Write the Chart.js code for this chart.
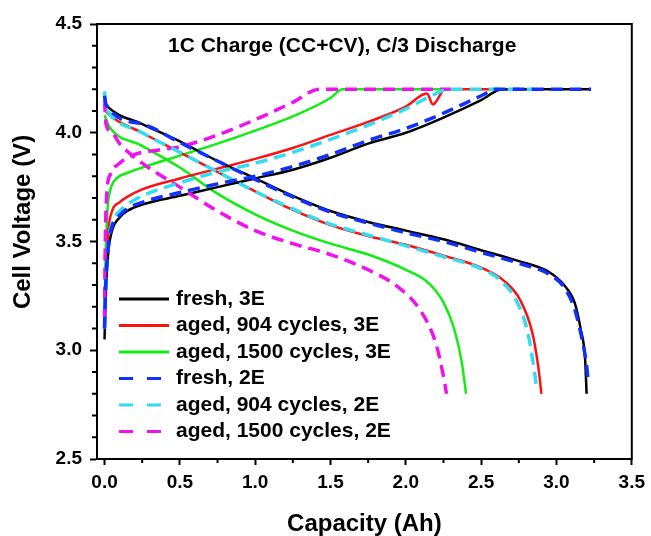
<!DOCTYPE html>
<html>
<head>
<meta charset="utf-8">
<script src="https://cdn.jsdelivr.net/npm/chart.js@4/dist/chart.umd.min.js"></script>
<style>
  html, body { margin: 0; padding: 0; background: #fff; }
  canvas { display: block; }
</style>
</head>
<body>
<canvas id="voltChart" width="651" height="536"></canvas>
<script>
// capacity (Ah), voltage (V) pairs
const fresh3E_chg = [[0,3.05],[0.008,3.25],[0.025,3.45],[0.05,3.55],[0.1,3.61],[0.15,3.64],[0.25,3.67],[0.5,3.71],[0.75,3.75],[1.0,3.79],[1.25,3.83],[1.5,3.885],[1.75,3.95],[2.0,4.0],[2.25,4.07],[2.5,4.15],[2.64,4.2],[3.22,4.2]];
const fresh3E_dis = [[0,4.14],[0.02,4.12],[0.25,4.04],[0.5,3.96],[0.75,3.87],[1.0,3.79],[1.25,3.71],[1.5,3.64],[1.75,3.59],[2.0,3.55],[2.25,3.51],[2.5,3.46],[2.75,3.41],[2.95,3.36],[3.05,3.30],[3.12,3.22],[3.16,3.10],[3.19,2.96],[3.2,2.8]];

const aged904_3E_chg = [[0,3.12],[0.008,3.35],[0.025,3.55],[0.05,3.64],[0.1,3.68],[0.15,3.705],[0.25,3.74],[0.5,3.79],[0.75,3.835],[1.0,3.88],[1.25,3.93],[1.5,3.99],[1.75,4.05],[2.0,4.12],[2.14,4.18],[2.18,4.13],[2.26,4.2],[2.85,4.2]];
const aged904_3E_dis = [[0,4.11],[0.02,4.09],[0.25,4.0],[0.5,3.91],[0.75,3.82],[1.0,3.73],[1.25,3.645],[1.5,3.575],[1.75,3.525],[2.0,3.485],[2.25,3.435],[2.5,3.38],[2.65,3.32],[2.76,3.23],[2.84,3.08],[2.88,2.92],[2.9,2.8]];

const aged1500_3E_chg = [[0,3.15],[0.008,3.45],[0.02,3.65],[0.04,3.74],[0.08,3.79],[0.15,3.815],[0.25,3.84],[0.5,3.895],[0.75,3.95],[1.0,4.01],[1.25,4.075],[1.5,4.16],[1.58,4.2],[2.38,4.2]];
const aged1500_3E_dis = [[0,4.08],[0.03,4.03],[0.25,3.94],[0.5,3.84],[0.75,3.72],[1.0,3.625],[1.25,3.55],[1.5,3.49],[1.75,3.44],[2.0,3.37],[2.15,3.31],[2.25,3.22],[2.32,3.10],[2.37,2.95],[2.4,2.8]];

const fresh2E_chg = [[0,3.1],[0.008,3.3],[0.025,3.48],[0.05,3.57],[0.1,3.62],[0.15,3.65],[0.25,3.68],[0.5,3.725],[0.75,3.765],[1.0,3.80],[1.25,3.845],[1.5,3.90],[1.75,3.965],[2.0,4.02],[2.25,4.09],[2.5,4.17],[2.6,4.2],[3.23,4.2]];
const fresh2E_dis = [[0,4.17],[0.01,4.13],[0.25,4.04],[0.5,3.955],[0.75,3.87],[1.0,3.785],[1.25,3.705],[1.5,3.635],[1.75,3.585],[2.0,3.54],[2.25,3.50],[2.5,3.45],[2.75,3.40],[2.95,3.35],[3.05,3.29],[3.12,3.19],[3.17,3.05],[3.2,2.93],[3.21,2.86]];

const aged904_2E_chg = [[0,3.1],[0.01,3.35],[0.03,3.52],[0.06,3.6],[0.1,3.64],[0.15,3.67],[0.25,3.71],[0.5,3.77],[0.75,3.82],[1.0,3.86],[1.25,3.91],[1.5,3.97],[1.75,4.035],[2.0,4.11],[2.2,4.18],[2.28,4.2],[2.85,4.2]];
const aged904_2E_dis = [[0,4.19],[0.005,4.13],[0.02,4.10],[0.25,4.0],[0.5,3.91],[0.75,3.82],[1.0,3.73],[1.25,3.65],[1.5,3.58],[1.75,3.53],[2.0,3.48],[2.25,3.43],[2.5,3.375],[2.63,3.32],[2.74,3.22],[2.81,3.08],[2.85,2.92],[2.87,2.82]];

const aged1500_2E_chg = [[0,3.15],[0.005,3.5],[0.015,3.72],[0.04,3.81],[0.1,3.86],[0.2,3.90],[0.35,3.92],[0.5,3.935],[0.75,3.99],[1.0,4.06],[1.25,4.14],[1.43,4.2],[2.3,4.2]];
const aged1500_2E_dis = [[0,4.15],[0.01,4.04],[0.05,4.0],[0.1,3.95],[0.25,3.86],[0.5,3.75],[0.75,3.64],[1.0,3.55],[1.25,3.49],[1.5,3.44],[1.75,3.37],[1.95,3.29],[2.1,3.18],[2.2,3.03],[2.25,2.88],[2.27,2.8]];

const seriesNames = ["fresh, 3E", "aged, 904 cycles, 3E", "aged, 1500 cycles, 3E",
                     "fresh, 2E", "aged, 904 cycles, 2E", "aged, 1500 cycles, 2E"];
const xTicks = [0, 0.5, 1.0, 1.5, 2.0, 2.5, 3.0, 3.5];
const yTicks = [2.5, 3.0, 3.5, 4.0, 4.5];

const FONT = '"Liberation Sans", Arial, sans-serif';

function curve(chg, dis) {
  const pts = chg.map(p => ({ x: p[0], y: p[1] }));
  pts.push({ x: 0, y: null });   // break between charge and discharge
  return pts.concat(dis.map(p => ({ x: p[0], y: p[1] })));
}

const styles = [
  { color: "#000000", dash: [] },
  { color: "#ff1010", dash: [] },
  { color: "#10ee10", dash: [] },
  { color: "#1030ff", dash: [12, 7] },
  { color: "#33dcf0", dash: [12, 7] },
  { color: "#f010f0", dash: [12, 7] },
];
const allData = [
  curve(fresh3E_chg, fresh3E_dis),
  curve(aged904_3E_chg, aged904_3E_dis),
  curve(aged1500_3E_chg, aged1500_3E_dis),
  curve(fresh2E_chg, fresh2E_dis),
  curve(aged904_2E_chg, aged904_2E_dis),
  curve(aged1500_2E_chg, aged1500_2E_dis),
];

const datasets = allData.map((d, i) => ({
  label: seriesNames[i],
  data: d,
  borderColor: styles[i].color,
  borderDash: styles[i].dash,
  borderWidth: styles[i].dash.length ? 3.5 : 2.5,
  pointRadius: 0,
  cubicInterpolationMode: "monotone",
  spanGaps: false,
  order: styles[i].dash.length ? 1 : 2,
}));

// frame, minor ticks, inner title, inner legend, y axis title
const decor = {
  id: "decor",
  afterDraw(chart) {
    const c = chart.ctx;
    const a = chart.chartArea;
    const xs = chart.scales.x, ys = chart.scales.y;
    c.save();
    c.strokeStyle = "#000";
    c.lineWidth = 2;
    c.strokeRect(a.left, a.top, a.right - a.left, a.bottom - a.top);

    c.beginPath();
    for (let k = 25; k < 350; k += 50) {
      const px = xs.getPixelForValue(k / 100);
      c.moveTo(px, a.bottom); c.lineTo(px, a.bottom + 4);
    }
    for (let k = 26; k < 45; k++) {
      if (k % 5 === 0) continue;
      const py = ys.getPixelForValue(k / 10);
      c.moveTo(a.left, py); c.lineTo(a.left - 5, py);
    }
    c.stroke();

    c.fillStyle = "#000";
    c.font = "bold 21px " + FONT;
    c.textAlign = "left";
    c.textBaseline = "alphabetic";
    c.fillText("1C Charge (CC+CV), C/3 Discharge", 168, 52);

    c.textBaseline = "middle";
    chart.data.datasets.forEach((ds, i) => {
      const y = 299 + i * 26.5;
      c.beginPath();
      c.strokeStyle = ds.borderColor;
      c.lineWidth = 3;
      if (ds.borderDash.length) c.setLineDash([14, 14]); else c.setLineDash([]);
      c.moveTo(119, y); c.lineTo(169, y);
      c.stroke();
      c.setLineDash([]);
      c.fillStyle = "#000";
      c.fillText(ds.label, 176, y);
    });

    c.translate(23, 222);
    c.rotate(-Math.PI / 2);
    c.textAlign = "center";
    c.font = "bold 24px " + FONT;
    c.fillText("Cell Voltage (V)", 0, 0);
    c.restore();
  }
};

new Chart(document.getElementById("voltChart"), {
  type: "line",
  data: { datasets: datasets },
  plugins: [decor],
  options: {
    responsive: false,
    animation: false,
    devicePixelRatio: 1,
    layout: { padding: { left: 0, right: 16, top: 24, bottom: 0 } },
    plugins: { legend: { display: false }, tooltip: { enabled: false } },
    scales: {
      x: {
        type: "linear",
        min: -0.05,
        max: 3.5,
        afterBuildTicks: s => { s.ticks = xTicks.map(v => ({ value: v })); },
        afterFit: s => { s.height = 77; },
        border: { display: true, color: "#000", width: 2 },
        grid: { drawOnChartArea: false, tickLength: 6, tickWidth: 2, tickColor: "#000" },
        ticks: {
          color: "#000",
          padding: 6,
          maxRotation: 0,
          font: { family: FONT, size: 19, weight: "bold" },
          callback: v => v.toFixed(1),
        },
        title: {
          display: true,
          text: "Capacity (Ah)",
          color: "#000",
          padding: { top: 0, bottom: 0 },
          font: { family: FONT, size: 24, weight: "bold", lineHeight: 1 },
        },
      },
      y: {
        type: "linear",
        min: 2.5,
        max: 4.5,
        afterBuildTicks: s => { s.ticks = yTicks.map(v => ({ value: v })); },
        afterFit: s => { s.width = 97; },
        border: { display: true, color: "#000", width: 2 },
        grid: { drawOnChartArea: false, tickLength: 7, tickWidth: 2, tickColor: "#000" },
        ticks: {
          color: "#000",
          padding: 8,
          font: { family: FONT, size: 19, weight: "bold" },
          callback: v => v.toFixed(1),
        },
      },
    },
  },
});
</script>
</body>
</html>
